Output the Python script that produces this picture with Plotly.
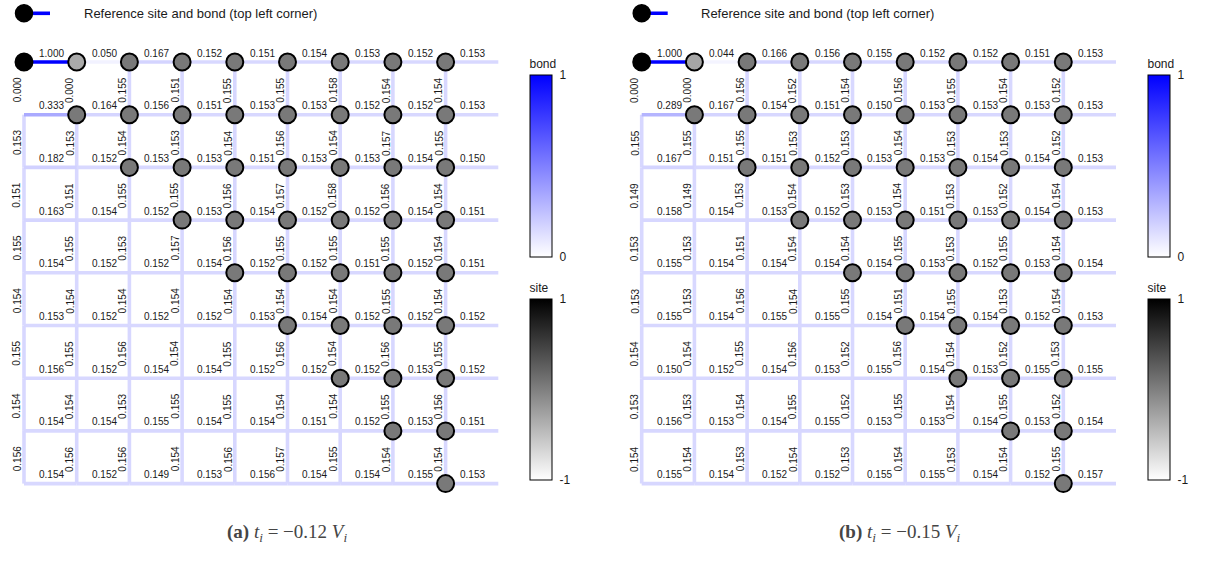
import plotly.graph_objects as go
from plotly.colors import sample_colorscale

# ---------------------------------------------------------------------------
# Data: 9x9 lattice, reference site at (0, 0)
# horizontal bonds: row j, bond from column i to i+1 (column 8 wraps to the right)
# vertical bonds: column i, bond from row j to j+1
# ---------------------------------------------------------------------------
h_bonds_a = [
    [1.000, 0.050, 0.167, 0.152, 0.151, 0.154, 0.153, 0.152, 0.153],
    [0.333, 0.164, 0.156, 0.151, 0.153, 0.153, 0.152, 0.152, 0.153],
    [0.182, 0.152, 0.153, 0.153, 0.151, 0.153, 0.153, 0.154, 0.150],
    [0.163, 0.154, 0.152, 0.153, 0.154, 0.152, 0.152, 0.154, 0.151],
    [0.154, 0.152, 0.152, 0.154, 0.152, 0.152, 0.151, 0.152, 0.151],
    [0.153, 0.152, 0.152, 0.152, 0.153, 0.154, 0.152, 0.152, 0.152],
    [0.156, 0.152, 0.154, 0.154, 0.152, 0.152, 0.152, 0.153, 0.152],
    [0.154, 0.154, 0.155, 0.154, 0.154, 0.151, 0.152, 0.153, 0.151],
    [0.154, 0.152, 0.149, 0.153, 0.156, 0.154, 0.154, 0.155, 0.153],
]
v_bonds_a = [
    [0.000, 0.000, 0.155, 0.151, 0.155, 0.155, 0.158, 0.154, 0.154],
    [0.153, 0.153, 0.154, 0.153, 0.154, 0.156, 0.154, 0.157, 0.155],
    [0.151, 0.151, 0.155, 0.155, 0.156, 0.157, 0.158, 0.156, 0.154],
    [0.155, 0.155, 0.153, 0.157, 0.156, 0.155, 0.155, 0.155, 0.154],
    [0.154, 0.154, 0.154, 0.154, 0.154, 0.154, 0.154, 0.155, 0.154],
    [0.155, 0.155, 0.156, 0.154, 0.155, 0.156, 0.154, 0.156, 0.155],
    [0.154, 0.154, 0.153, 0.155, 0.155, 0.154, 0.154, 0.155, 0.156],
    [0.156, 0.156, 0.156, 0.154, 0.156, 0.157, 0.155, 0.154, 0.154],
]
h_bonds_b = [
    [1.000, 0.044, 0.166, 0.156, 0.155, 0.152, 0.152, 0.151, 0.153],
    [0.289, 0.167, 0.154, 0.151, 0.150, 0.153, 0.153, 0.153, 0.153],
    [0.167, 0.151, 0.151, 0.152, 0.153, 0.153, 0.154, 0.154, 0.153],
    [0.158, 0.154, 0.153, 0.152, 0.153, 0.151, 0.153, 0.154, 0.153],
    [0.155, 0.154, 0.154, 0.154, 0.154, 0.153, 0.152, 0.153, 0.154],
    [0.155, 0.154, 0.155, 0.155, 0.154, 0.154, 0.154, 0.152, 0.153],
    [0.150, 0.152, 0.154, 0.153, 0.155, 0.154, 0.153, 0.155, 0.155],
    [0.156, 0.153, 0.154, 0.155, 0.153, 0.153, 0.154, 0.153, 0.154],
    [0.155, 0.154, 0.152, 0.152, 0.155, 0.155, 0.154, 0.152, 0.157],
]
v_bonds_b = [
    [0.000, 0.000, 0.156, 0.152, 0.154, 0.156, 0.155, 0.154, 0.152],
    [0.155, 0.155, 0.155, 0.153, 0.153, 0.154, 0.153, 0.153, 0.152],
    [0.149, 0.149, 0.153, 0.154, 0.153, 0.154, 0.153, 0.152, 0.154],
    [0.153, 0.153, 0.151, 0.154, 0.154, 0.155, 0.153, 0.155, 0.154],
    [0.153, 0.153, 0.156, 0.154, 0.155, 0.151, 0.155, 0.153, 0.154],
    [0.154, 0.154, 0.155, 0.156, 0.152, 0.156, 0.154, 0.152, 0.153],
    [0.153, 0.153, 0.154, 0.155, 0.152, 0.155, 0.154, 0.155, 0.152],
    [0.154, 0.154, 0.153, 0.154, 0.153, 0.154, 0.153, 0.154, 0.155],
]
# site values on the upper triangle (row j holds columns j..8)
sites_a = [
    [1.00, -0.33, 0.05, 0.05, 0.05, 0.05, 0.05, 0.05, 0.05],
    [0.05, 0.05, 0.05, 0.05, 0.05, 0.05, 0.05, 0.05],
    [0.05, 0.05, 0.05, 0.05, 0.05, 0.05, 0.05],
    [0.05, 0.05, 0.05, 0.05, 0.05, 0.05],
    [0.05, 0.05, 0.05, 0.05, 0.05],
    [0.05, 0.05, 0.05, 0.05],
    [0.05, 0.05, 0.05],
    [0.05, 0.05],
    [0.05],
]
sites_b = [
    [1.00, -0.30, 0.05, 0.05, 0.05, 0.05, 0.05, 0.05, 0.05],
    [0.05, 0.05, 0.05, 0.05, 0.05, 0.05, 0.05, 0.05],
    [0.05, 0.05, 0.05, 0.05, 0.05, 0.05, 0.05],
    [0.05, 0.05, 0.05, 0.05, 0.05, 0.05],
    [0.05, 0.05, 0.05, 0.05, 0.05],
    [0.05, 0.05, 0.05, 0.05],
    [0.05, 0.05, 0.05],
    [0.05, 0.05],
    [0.05],
]
captions = [
    "<b>(a)</b> <i>t<sub>i</sub></i> = \u22120.12 <i>V<sub>i</sub></i>",
    "<b>(b)</b> <i>t<sub>i</sub></i> = \u22120.15 <i>V<sub>i</sub></i>",
]
legend_text = "Reference site and bond (top left corner)"

# ---------------------------------------------------------------------------
# Styling / geometry
# ---------------------------------------------------------------------------
W, H = 1207, 563
UNIT = 52.7                      # pixels per lattice spacing
ORIGINS = [(24.0, 62.0), (641.7, 62.0)]
BOND_SCALE = [[0, "#ffffff"], [1, "#0000ff"]]
SITE_SCALE = [[0, "#ffffff"], [1, "#000000"]]
SANS = "Liberation Sans, Arial, sans-serif"
SERIF = "Liberation Serif, Times New Roman, serif"
LABEL_SIZE = 10
TXT = "#1a1a1a"

fig = go.Figure()
annotations = []

panels = [
    (h_bonds_a, v_bonds_a, sites_a),
    (h_bonds_b, v_bonds_b, sites_b),
]


def colorbar(title, top_px, length_px, x_px, vals):
    return dict(
        title=dict(text=title, side="top",
                   font=dict(size=12, family=SANS, color=TXT)),
        x=x_px / W, xanchor="left", y=1 - top_px / H, yanchor="top",
        len=length_px, lenmode="pixels", thickness=22, thicknessmode="pixels",
        outlinewidth=1, outlinecolor="#000", xpad=0, ypad=0,
        tickvals=vals, ticktext=[f"{v:g}" for v in vals],
        ticks="outside", ticklen=5, tickcolor="rgba(0,0,0,0)",
        tickfont=dict(size=12, family=SANS, color=TXT),
    )


for p, (hb, vb, st) in enumerate(panels):
    xa = "x" if p == 0 else "x2"
    ya = "y" if p == 0 else "y2"

    # collect bond segments, grouped by value so each colour is one trace
    segs = []
    for j, row in enumerate(hb):
        for i, val in enumerate(row):
            segs.append((val, (i, i + 1), (j, j)))
    for j, row in enumerate(vb):
        for i, val in enumerate(row):
            segs.append((val, (i, i), (j, j + 1)))
    groups = {}
    for val, xs, ys in segs:
        groups.setdefault(val, []).append((xs, ys))
    for val in sorted(groups):
        xs_all, ys_all = [], []
        for xs, ys in groups[val]:
            xs_all += [xs[0], xs[1], None]
            ys_all += [ys[0], ys[1], None]
        col = sample_colorscale(BOND_SCALE, [val])[0]
        fig.add_trace(go.Scatter(
            x=xs_all, y=ys_all, mode="lines", xaxis=xa, yaxis=ya,
            line=dict(color=col, width=3.6), hoverinfo="skip", showlegend=False,
        ))

    # invisible carrier of the bond colour bar (bond midpoints)
    mx = [(xs[0] + xs[1]) / 2 for _, xs, _ in segs]
    my = [(ys[0] + ys[1]) / 2 for _, _, ys in segs]
    mv = [val for val, _, _ in segs]
    cb_x = 530 + 618 * p
    fig.add_trace(go.Scatter(
        x=mx, y=my, mode="markers", xaxis=xa, yaxis=ya, hoverinfo="skip",
        showlegend=False,
        marker=dict(size=1, opacity=0, color=mv, colorscale=BOND_SCALE,
                    cmin=0, cmax=1, showscale=True,
                    colorbar=colorbar("bond", 56, 201, cb_x, [0, 1])),
    ))

    # legend glyph: reference bond and site, above the lattice
    ox, oy = ORIGINS[p]
    ly = (13.3 - oy) / UNIT
    fig.add_trace(go.Scatter(
        x=[0, 26 / UNIT], y=[ly, ly], mode="lines", xaxis=xa, yaxis=ya,
        line=dict(color="#0000ff", width=3.6), hoverinfo="skip", showlegend=False,
    ))
    fig.add_trace(go.Scatter(
        x=[0], y=[ly], mode="markers", xaxis=xa, yaxis=ya, hoverinfo="skip",
        showlegend=False,
        marker=dict(size=17, color="#000", line=dict(color="#000", width=1.5)),
    ))
    annotations.append(dict(
        x=57.7 / UNIT, y=ly, xref=xa, yref=ya,
        text=legend_text, showarrow=False, xanchor="left", yanchor="middle",
        font=dict(size=13, family=SANS, color=TXT),
    ))

    # lattice sites
    sx, sy, sv = [], [], []
    for j, row in enumerate(st):
        for k, val in enumerate(row):
            sx.append(j + k)
            sy.append(j)
            sv.append(val)
    fig.add_trace(go.Scatter(
        x=sx, y=sy, mode="markers", xaxis=xa, yaxis=ya, hoverinfo="skip",
        showlegend=False,
        marker=dict(size=17, color=sv, colorscale=SITE_SCALE, cmin=-1, cmax=1,
                    line=dict(color="#000", width=2), showscale=True,
                    colorbar=colorbar("site", 280, 200, cb_x, [-1, 1])),
    ))

    # bond value labels
    for j, row in enumerate(hb):
        for i, val in enumerate(row):
            annotations.append(dict(
                x=i + 0.5, y=j, xref=xa, yref=ya, text=f"{val:.3f}",
                showarrow=False, xanchor="center", yanchor="middle",
                yshift=9, xshift=1,
                font=dict(size=LABEL_SIZE, family=SANS, color=TXT),
            ))
    for j, row in enumerate(vb):
        for i, val in enumerate(row):
            annotations.append(dict(
                x=i, y=j + 0.5, xref=xa, yref=ya, text=f"{val:.3f}",
                showarrow=False, xanchor="center", yanchor="middle",
                textangle=-90, xshift=-7, yshift=-2,
                font=dict(size=LABEL_SIZE, family=SANS, color=TXT),
            ))

    annotations.append(dict(
        x=(287 + 613 * p) / W, y=1 - 533 / H, xref="paper", yref="paper",
        text=captions[p], showarrow=False, xanchor="center", yanchor="middle",
        font=dict(size=19, family=SERIF, color="#454545"),
    ))

# axes: one lattice unit = UNIT pixels in both directions
half = W / 2
ox_a, oy = ORIGINS[0]
ox_b, _ = ORIGINS[1]
axis_common = dict(visible=False, showgrid=False, zeroline=False, fixedrange=True)
fig.update_layout(
    width=W, height=H,
    margin=dict(l=0, r=0, t=0, b=0),
    paper_bgcolor="white", plot_bgcolor="white",
    xaxis=dict(domain=[0, 0.5], range=[(0 - ox_a) / UNIT, (half - ox_a) / UNIT],
               **axis_common),
    xaxis2=dict(domain=[0.5, 1], range=[(half - ox_b) / UNIT, (W - ox_b) / UNIT],
                **axis_common),
    yaxis=dict(domain=[0, 1], range=[(H - oy) / UNIT, (0 - oy) / UNIT],
               anchor="x", **axis_common),
    yaxis2=dict(domain=[0, 1], range=[(H - oy) / UNIT, (0 - oy) / UNIT],
                anchor="x2", **axis_common),
    annotations=annotations,
    showlegend=False,
)

fig.write_html("out.html")
